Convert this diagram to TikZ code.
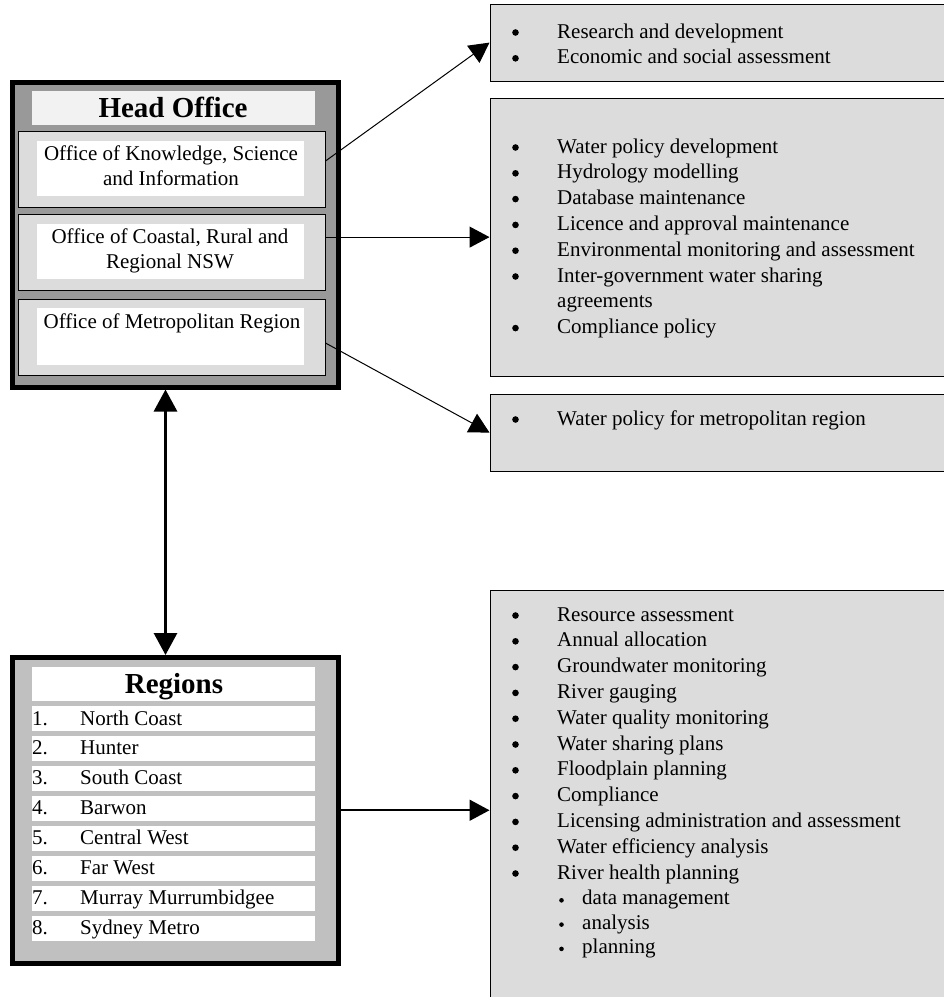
\documentclass[tikz,border=0pt]{standalone}
\usepackage{fontspec}
\setmainfont{Liberation Serif}
\usepackage{tikz}
\usetikzlibrary{arrows.meta}

\definecolor{panelgray}{HTML}{DCDCDC}
\definecolor{headgray}{HTML}{999999}
\definecolor{regiongray}{HTML}{C0C0C0}
\definecolor{titlewhite}{HTML}{F2F2F2}

\newcommand{\taskfont}{\fontsize{21}{25.8}\selectfont}
\newcommand{\bul}{\makebox[47pt][l]{\hspace{2pt}\tikz[baseline=-5.5pt]\fill (0,0) circle (3.3pt);}}
\newcommand{\subbul}{\hspace*{49pt}\makebox[23pt][l]{\tikz[baseline=-4.5pt]\fill (0,0) circle (2.3pt);}}

\begin{document}
\begin{tikzpicture}[x=1pt,y=-1pt]
% Define styles
\tikzstyle{outerbox} = [draw, line width=4.5pt, anchor=north west, inner sep=0, minimum width=326pt, minimum height=305pt]
\tikzstyle{officebox} = [draw, line width=1pt, fill=panelgray, anchor=north west, inner sep=0, minimum width=307pt, minimum height=76pt]
\tikzstyle{whitebox} = [fill=white, anchor=north west, inner sep=0, minimum width=267pt]
\tikzstyle{rowbox} = [fill=white, anchor=north west, inner sep=0, minimum width=283pt, minimum height=25pt]
\tikzstyle{taskbox} = [draw, line width=1.2pt, fill=panelgray, anchor=north west, inner sep=0, minimum width=460pt]
\tikzstyle{tasktext} = [anchor=base west, inner sep=0, font=\taskfont]
\tikzstyle{officetext} = [anchor=base, inner sep=0, font=\taskfont]
\tikzstyle{titletext} = [anchor=base, inner sep=0, font=\fontsize{29}{32}\selectfont\bfseries]
\tikzstyle{link} = [line width=1pt, -{Triangle[length=20pt,width=21pt]}]

\useasboundingbox (0,0) rectangle (944,997);
\clip (0,0) rectangle (944,997);

% Head office
\node[outerbox, fill=headgray] (head) at (10.25,80) {};
\node[fill=titlewhite, anchor=north west, inner sep=0, minimum width=283pt, minimum height=34pt] (headtitle) at (32,91) {};
\node[titletext] (headlabel) at (173,117) {Head Office};
\node[officebox] (knowsci) at (17.5,130.5) {};
\node[officebox] (coastal) at (17.5,213.5) {};
\node[officebox] (metro) at (17.5,298.5) {};
\node[whitebox, minimum height=55pt] (knowsciw) at (37,141) {};
\node[whitebox, minimum height=55pt] (coastalw) at (37,224) {};
\node[whitebox, minimum height=57pt] (metrow) at (37,308) {};
\node[officetext] (knowscitxt) at (171,160) {\begin{tabular}[t]{@{}c@{}}Office of Knowledge, Science\\and Information\end{tabular}};
\node[officetext] (coastaltxt) at (170,243) {\begin{tabular}[t]{@{}c@{}}Office of Coastal, Rural and\\Regional NSW\end{tabular}};
\node[officetext] (metrotxt) at (172,328) {Office of Metropolitan Region};

% Regions
\node[outerbox, fill=regiongray, minimum height=306pt] (regions) at (10.25,655) {};
\node[fill=white, anchor=north west, inner sep=0, minimum width=283pt, minimum height=34pt] (regtitle) at (32,667) {};
\node[titletext] (reglabel) at (174,693) {Regions};
\foreach \name [count=\i] in {North Coast, Hunter, South Coast, Barwon, Central West, Far West, Murray Murrumbidgee, Sydney Metro} {
  \node[rowbox] (row\i) at (32,{706+29.9*(\i-1)}) {};
  \node[tasktext] (rowtxt\i) at (32,{725+29.9*(\i-1)}) {\makebox[48pt][l]{\i.}\name};
}

% Task boxes
\node[taskbox, minimum height=77pt] (research) at (489.5,3.5) {};
\node[tasktext] (researchtxt) at (510,38) {\begin{tabular}[t]{@{}l@{}}\bul Research and development\\\bul Economic and social assessment\end{tabular}};
\node[taskbox, minimum height=278pt] (policy) at (489.5,97.5) {};
\node[tasktext] (policytxt) at (510,153) {\begin{tabular}[t]{@{}l@{}}\bul Water policy development\\\bul Hydrology modelling\\\bul Database maintenance\\\bul Licence and approval maintenance\\\bul Environmental monitoring and assessment\\\bul Inter-government water sharing\\\hspace*{47pt}agreements\\\bul Compliance policy\end{tabular}};
\node[taskbox, minimum height=77pt] (metrotask) at (489.5,393.5) {};
\node[tasktext] (metrotasktxt) at (510,425) {\bul Water policy for metropolitan region};
\node[taskbox, minimum height=438pt] (regiontask) at (489.5,589.5) {};
\node[tasktext] (regiontasktxt) at (510,621) {\begin{tabular}[t]{@{}l@{}}\bul Resource assessment\\\bul Annual allocation\\\bul Groundwater monitoring\\\bul River gauging\\\bul Water quality monitoring\\\bul Water sharing plans\\\bul Floodplain planning\\\bul Compliance\\\bul Licensing administration and assessment\\\bul Water efficiency analysis\\\bul River health planning\\\subbul data management\\[-1.5pt]\subbul analysis\\[-1.5pt]\subbul planning\end{tabular}};

% Connect the nodes
\draw[link] ([yshift=8pt]knowsci.east) -- (research.west);
\draw[link] (coastal.east |- policy.west) -- (policy.west);
\draw[link] ([yshift=-6pt]metro.east) -- (metrotask.west);
\draw[line width=3pt, {Triangle[length=22pt,width=23pt]}-{Triangle[length=22pt,width=23pt]}] ([xshift=-10pt]head.south) -- ([xshift=-10pt]regions.north);
\draw[line width=1.7pt, -{Triangle[length=20pt,width=21pt]}] (regions.east) -- (regions.east -| regiontask.west);

\end{tikzpicture}
\end{document}
